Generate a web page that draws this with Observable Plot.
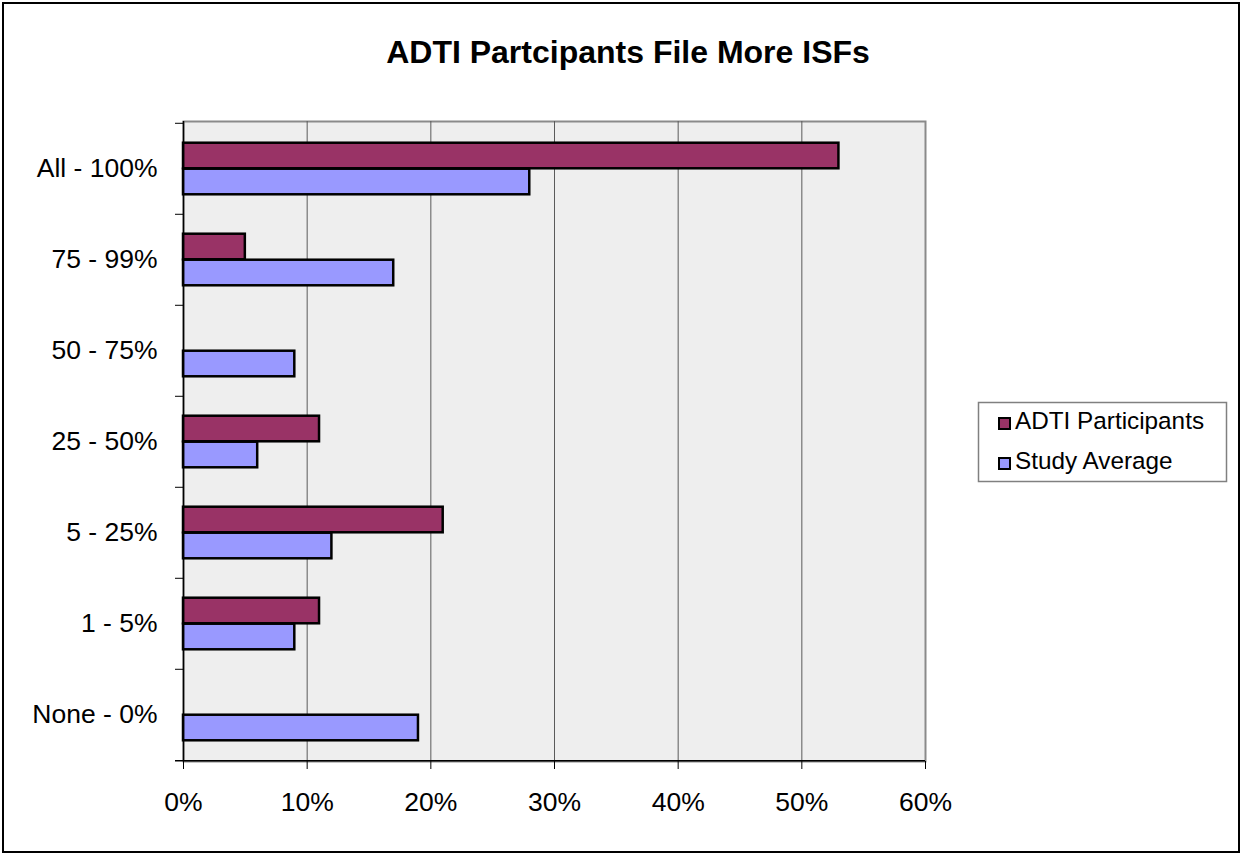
<!DOCTYPE html>
<html><head><meta charset="utf-8">
<script src="https://cdn.jsdelivr.net/npm/d3@7"></script>
<script src="https://cdn.jsdelivr.net/npm/@observablehq/plot@0.6"></script>
<style>
body{margin:0;background:#fff;}
#wrap{position:relative;width:1241px;height:853px;font-family:Arial,"Liberation Sans",sans-serif;}
#wrap svg{display:block;}
#overlay{position:absolute;left:0;top:0;pointer-events:none;}
</style></head><body><div id="wrap"></div>
<script>
const categories = ["All - 100%","75 - 99%","50 - 75%","25 - 50%","5 - 25%","1 - 5%","None - 0%"];
const adti = [53, 5, 0, 11, 21, 11, 0];
const study = [28, 17, 9, 6, 12, 9, 19];
const xTicks = [0, 10, 20, 30, 40, 50, 60];
const gridTicks = [10, 20, 30, 40, 50];
const seriesNames = ["ADTI Participants", "Study Average"];
const seriesColors = ["#993366", "#9999FF"];
const title = "ADTI Partcipants File More ISFs";

const W = 1241, H = 853, mL = 183, mR = 316, mT = 121, mB = 92;
const step = (H - mT - mB) / categories.length;
const barH = 26, outer = (step - 2 * barH) / 2;
const tickLen = 8 * 60 / (W - mL - mR);
const font = 'Arial, "Liberation Sans", sans-serif';

const rows = categories.map((c, i) => ({cat: c, adti: adti[i], study: study[i]}));

const chart = Plot.plot({
  width: W, height: H,
  marginLeft: mL, marginRight: mR, marginTop: mT, marginBottom: mB,
  style: {fontFamily: font, fontSize: "26.5px", color: "#000", background: "transparent", overflow: "visible"},
  x: {domain: [0, 60], label: null},
  y: {domain: categories, padding: 0, label: null},
  marks: [
    Plot.frame({fill: "#eeeeee", stroke: "#8a8a8a", strokeWidth: 2}),
    Plot.ruleX(gridTicks, {stroke: "#5a5a5a", strokeWidth: 1}),
    Plot.barX(rows.filter(d => d.adti > 0), {y: "cat", x1: 0, x2: "adti", fill: seriesColors[0], stroke: "#000", strokeWidth: 2.5, insetTop: outer, insetBottom: step - outer - barH}),
    Plot.barX(rows.filter(d => d.study > 0), {y: "cat", x1: 0, x2: "study", fill: seriesColors[1], stroke: "#000", strokeWidth: 2.5, insetTop: outer + barH, insetBottom: outer}),
    Plot.ruleX([0], {stroke: "#000", strokeWidth: 1.5}),
    Plot.ruleY(categories, {x1: -tickLen, x2: 0, dy: -step / 2, stroke: "#000", strokeWidth: 1}),
    Plot.ruleY([categories[categories.length - 1]], {x1: -tickLen, x2: 60, dy: step / 2, stroke: "#000", strokeWidth: 1.5}),
    Plot.axisX({ticks: xTicks, tickSize: 8, tickPadding: 23, tickFormat: d => d + "%", fontSize: 26.5, stroke: "#000"}),
    Plot.axisY({tickSize: 0, tickPadding: 26, fontSize: 26.5})
  ]
});

const wrap = document.getElementById("wrap");
wrap.appendChild(chart);

const ov = d3.select(wrap).append("svg").attr("id", "overlay")
  .attr("width", W).attr("height", H).style("font-family", font);

ov.append("rect").attr("x", 3).attr("y", 3).attr("width", W - 5).attr("height", H - 4)
  .attr("fill", "none").attr("stroke", "#000").attr("stroke-width", 2);

ov.append("text").attr("x", 628).attr("y", 63).attr("text-anchor", "middle")
  .attr("font-weight", "bold").attr("font-size", 32).attr("fill", "#000").text(title);

const lg = ov.append("g");
lg.append("rect").attr("x", 978.5).attr("y", 402.5).attr("width", 248).attr("height", 79)
  .attr("fill", "#fff").attr("stroke", "#808080").attr("stroke-width", 1.5);
seriesNames.forEach((name, i) => {
  const y = 429 + i * 40;
  lg.append("rect").attr("x", 999).attr("y", y - 11).attr("width", 11).attr("height", 11)
    .attr("fill", seriesColors[i]).attr("stroke", "#000").attr("stroke-width", 2);
  lg.append("text").attr("x", 1015).attr("y", y).attr("font-size", 24.3).attr("fill", "#000").text(name);
});
</script></body></html>
